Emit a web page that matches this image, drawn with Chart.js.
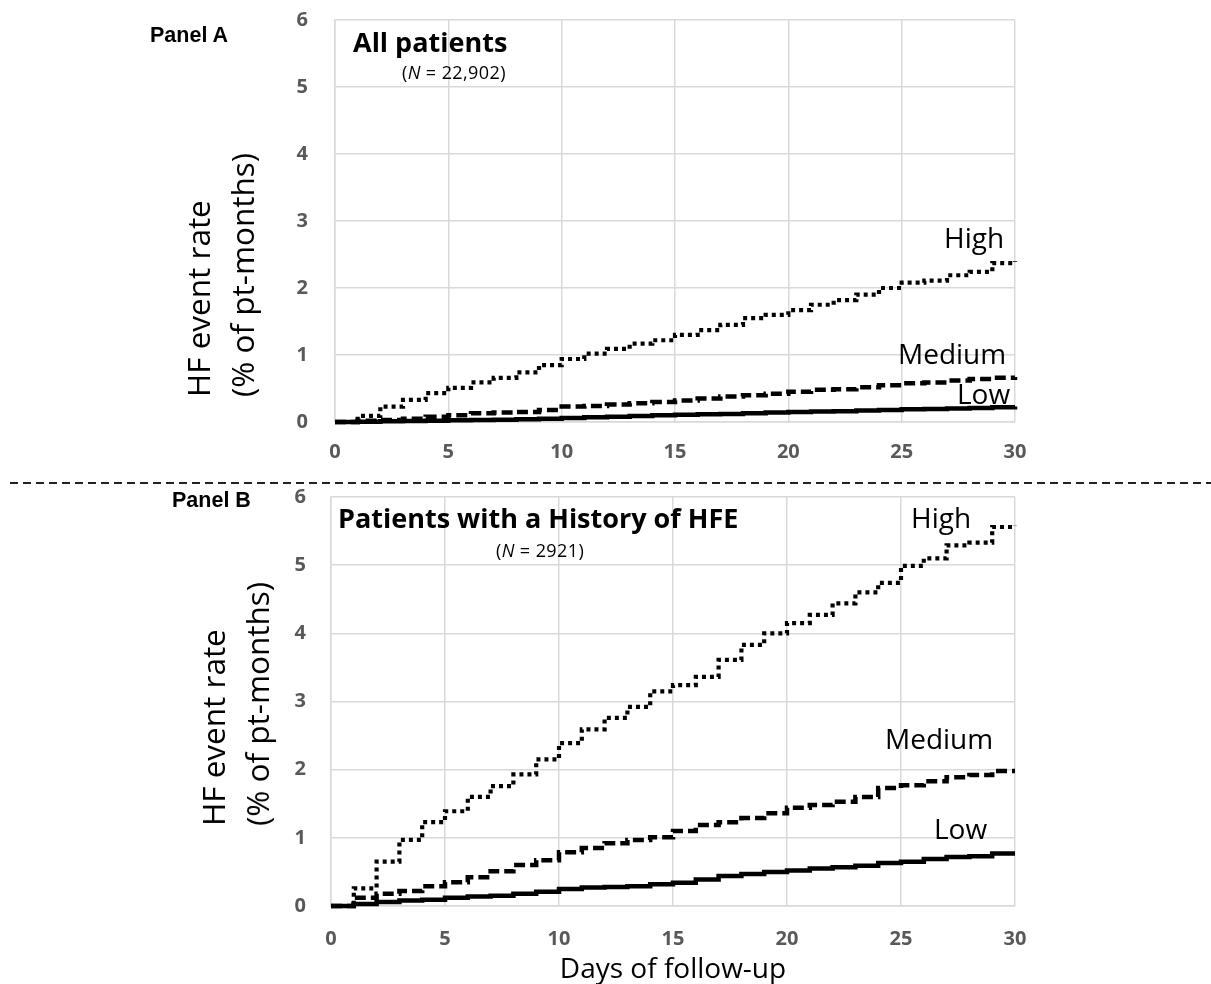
<!DOCTYPE html>
<html>
<head>
<meta charset="utf-8">
<script src="https://cdn.jsdelivr.net/npm/chart.js@4.4.0/dist/chart.umd.min.js"></script>
<style>
body { margin:0; background:#fff; width:1211px; height:984px; position:relative; overflow:hidden; font-family:"Open Sans", sans-serif; }
.box { position:absolute; left:0; width:1211px; }
#boxA { top:0; height:475px; }
#boxB { top:485px; height:499px; }
.lbl { position:absolute; white-space:nowrap; color:#000; line-height:1; }
.panel { font-family:"Liberation Sans", Arial, sans-serif; font-weight:bold; font-size:21.5px; }
.head { font-weight:bold; font-size:27px; }
.n { font-size:18px; letter-spacing:0.4px; }
.risk { font-size:28px; }
.ytitle { position:absolute; writing-mode:vertical-rl; transform:rotate(180deg); font-size:31.5px; line-height:44px; width:88px; height:270px; text-align:start; white-space:nowrap; }
#sep { position:absolute; left:10px; top:482px; width:1201px; height:2px; background:repeating-linear-gradient(to right, #222 0 8px, transparent 8px 13px); }
</style>
</head>
<body>
<div class="box" id="boxA"><canvas id="chartA" width="1211" height="475"></canvas></div>
<div class="box" id="boxB"><canvas id="chartB" width="1211" height="499"></canvas></div>
<div id="sep"></div>

<div class="lbl panel" style="left:150px; top:25px;">Panel A</div>
<div class="lbl panel" style="left:172px; top:490px;">Panel B</div>

<div class="ytitle" style="left:176px; top:127px;">HF event rate<br>(% of pt-months)</div>
<div class="ytitle" style="left:191px; top:556px;">HF event rate<br>(% of pt-months)</div>

<div class="lbl head" style="left:353px; top:28px;">All patients</div>
<div class="lbl n" style="left:402px; top:63px;">(<i>N</i> = 22,902)</div>
<div class="lbl head" style="left:338px; top:504px;">Patients with a History of HFE</div>
<div class="lbl n" style="left:496px; top:541px;">(<i>N</i> = 2921)</div>

<div class="lbl risk" style="left:944px; top:223px;">High</div>
<div class="lbl risk" style="left:898px; top:339px;">Medium</div>
<div class="lbl risk" style="left:957px; top:379px;">Low</div>
<div class="lbl risk" style="left:911px; top:503px;">High</div>
<div class="lbl risk" style="left:885px; top:724px;">Medium</div>
<div class="lbl risk" style="left:934px; top:814px;">Low</div>

<script>
// jours de suivi et graduations
const days = [0,1,2,3,4,5,6,7,8,9,10,11,12,13,14,15,16,17,18,19,20,21,22,23,24,25,26,27,28,29,30];
const xTicks = [0,5,10,15,20,25,30];
const yTicks = [0,1,2,3,4,5,6];

// Panel A - tous les patients
const highA = [0,0.09,0.23,0.33,0.43,0.51,0.59,0.66,0.74,0.85,0.94,1.02,1.09,1.17,1.22,1.30,1.37,1.45,1.55,1.60,1.67,1.75,1.82,1.90,2.00,2.08,2.11,2.19,2.24,2.37,2.40];
const mediumA = [0,0.02,0.03,0.05,0.08,0.10,0.13,0.14,0.15,0.18,0.23,0.24,0.26,0.28,0.30,0.32,0.35,0.38,0.40,0.42,0.45,0.48,0.49,0.52,0.55,0.58,0.59,0.62,0.64,0.66,0.67];
const lowA = [0,0.005,0.01,0.015,0.02,0.025,0.03,0.035,0.04,0.05,0.06,0.07,0.08,0.09,0.10,0.11,0.115,0.12,0.13,0.14,0.15,0.155,0.16,0.17,0.18,0.19,0.195,0.20,0.21,0.22,0.23];

// Panel B - antecedents de HFE
const highB = [0,0.26,0.65,0.97,1.23,1.39,1.60,1.76,1.93,2.15,2.39,2.59,2.76,2.92,3.15,3.24,3.36,3.61,3.83,4.00,4.15,4.27,4.44,4.60,4.74,4.99,5.10,5.29,5.33,5.56,5.58];
const mediumB = [0,0.12,0.18,0.22,0.29,0.35,0.42,0.51,0.60,0.67,0.79,0.85,0.92,0.97,1.01,1.10,1.19,1.23,1.29,1.36,1.44,1.48,1.53,1.60,1.73,1.77,1.83,1.89,1.92,1.98,1.98];
const lowB = [0,0.03,0.06,0.08,0.09,0.12,0.14,0.15,0.18,0.21,0.25,0.27,0.28,0.29,0.32,0.34,0.39,0.44,0.47,0.50,0.52,0.55,0.57,0.59,0.63,0.65,0.69,0.72,0.73,0.77,0.77];

function series(vals, dash, width) {
    return {
        data: days.map((d, i) => ({x: d, y: vals[i]})),
        stepped: true,
        borderColor: '#000',
        borderWidth: width,
        borderDash: dash,
        borderCapStyle: 'butt',
        pointRadius: 0,
        fill: false,
        clip: 6
    };
}

let tickFont = {family: 'Open Sans', weight: 'bold', size: 20};

function makeChart(id, high, medium, low, yWidth, xHeight, padTop, yGap, xPad, xTitle) {
    let ctx = document.getElementById(id).getContext('2d');
    return new Chart(ctx, {
        type: 'line',
        data: {
            datasets: [
                series(low, [], 4.5),
                series(medium, [11, 5], 4.5),
                series(high, [4, 4], 4.2)
            ]
        },
        options: {
            responsive: false,
            animation: false,
            layout: {padding: {left: 0, right: 196, top: padTop, bottom: 0}},
            plugins: {legend: {display: false}, tooltip: {enabled: false}},
            scales: {
                x: {
                    type: 'linear', min: 0, max: 30,
                    afterBuildTicks: s => { s.ticks = xTicks.map(v => ({value: v})); },
                    afterFit: s => { s.height = xHeight; },
                    grid: {color: '#d9d9d9', lineWidth: 1.5, drawTicks: false},
                    border: {color: '#d9d9d9', width: 1.5},
                    ticks: {color: '#595959', font: tickFont, padding: xPad, maxRotation: 0},
                    title: {
                        display: !!xTitle, text: xTitle || '', color: '#000',
                        font: {family: 'Open Sans', size: 28, lineHeight: 1.0},
                        padding: {top: 0, bottom: 0}
                    }
                },
                y: {
                    min: 0, max: 6,
                    afterBuildTicks: s => { s.ticks = yTicks.map(v => ({value: v})); },
                    afterFit: s => { s.width = yWidth; },
                    // ecart des etiquettes via tickLength invisible (le padding gonfle la marge du haut)
                    grid: {color: '#d9d9d9', lineWidth: 1.5, drawTicks: true, tickLength: yGap, tickColor: 'rgba(0,0,0,0)'},
                    border: {color: '#d9d9d9', width: 1.5},
                    ticks: {color: '#595959', font: tickFont, padding: 0}
                }
            }
        }
    });
}

makeChart('chartA', highA, mediumA, lowA, 335, 53, 20, 27, 18, null);
makeChart('chartB', highB, mediumB, lowB, 331, 78, 12, 25, 21, 'Days of follow-up');
</script>
</body>
</html>
